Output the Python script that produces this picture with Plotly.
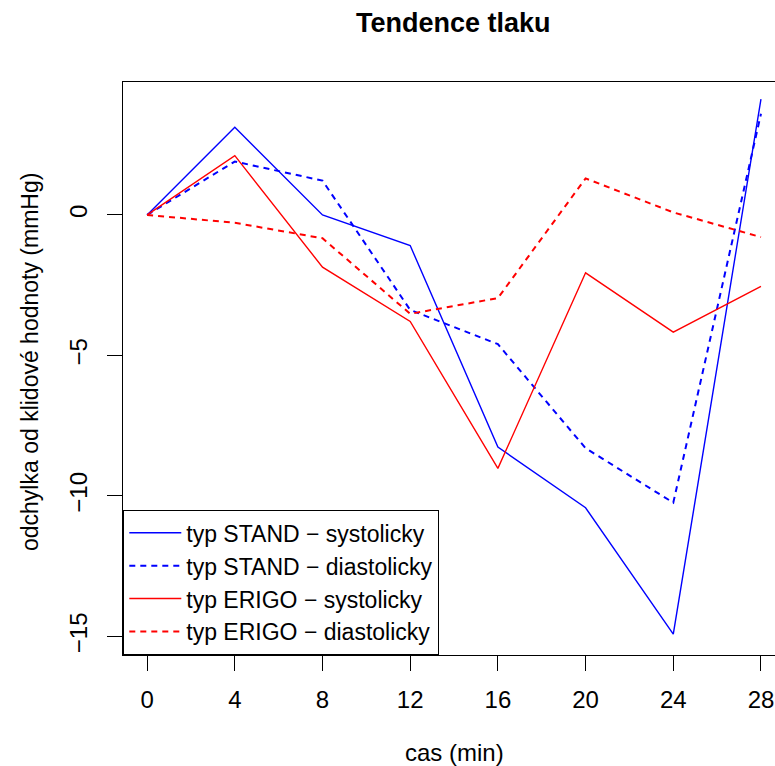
import plotly.graph_objects as go

cas = [0, 4, 8, 12, 16, 20, 24, 28]
stand_sys = [0, 3.12, 0.0, -1.09, -8.26, -10.42, -14.92, 4.12]
stand_dia = [0, 1.9, 1.22, -3.38, -4.6, -8.3, -10.24, 3.6]
erigo_sys = [0, 2.11, -1.86, -3.79, -9.02, -2.06, -4.17, -2.54]
erigo_dia = [0, -0.28, -0.83, -3.52, -2.96, 1.30, 0.09, -0.79]

names = ["typ STAND − systolicky", "typ STAND − diastolicky",
         "typ ERIGO − systolicky", "typ ERIGO − diastolicky"]
colors = ["#0000FF", "#0000FF", "#FF0000", "#FF0000"]
dashes = ["solid", "6px,5px", "solid", "6px,5px"]
widths = [1.4, 2.0, 1.4, 2.0]
series = [stand_sys, stand_dia, erigo_sys, erigo_dia]

x_ticks = [0, 4, 8, 12, 16, 20, 24, 28]
y_ticks = [-15, -10, -5, 0]
y_ticktext = ["−15", "−10", "−5", "0"]

FONT = "Liberation Sans, Arial, sans-serif"

fig = go.Figure()
for ys, nm, c, d, w in zip(series, names, colors, dashes, widths):
    fig.add_trace(go.Scatter(x=cas, y=ys, mode="lines", name=nm,
                             line=dict(color=c, dash=d, width=w)))

W, H = 775, 766
L, R, T, B = 123, 0, 82, 111
pw, ph = W - L - R, H - T - B

def px(xp):
    return (xp - L) / pw

def py(yp):
    return (H - B - yp) / ph

fig.update_layout(
    width=W, height=H,
    margin=dict(l=L, r=R, t=T, b=B, pad=0),
    paper_bgcolor="white", plot_bgcolor="white",
    font=dict(family=FONT, size=23, color="black"),
    showlegend=True,
    legend=dict(x=0, y=0, xanchor="left", yanchor="bottom",
                bordercolor="black", borderwidth=1.3, bgcolor="white",
                font=dict(size=23), tracegroupgap=0, itemwidth=52),
    xaxis=dict(range=[-1.1, 28.64], tickvals=x_ticks, ticks="outside",
               ticklen=15, tickwidth=1.3, tickcolor="black",
               showline=True, linecolor="black", linewidth=1.3, mirror=True,
               showgrid=False, zeroline=False, ticklabelstandoff=8,
               tickfont=dict(size=24)),
    yaxis=dict(range=[-15.66, 4.73], tickvals=y_ticks, ticktext=y_ticktext,
               ticks="outside", ticklen=15, tickwidth=1.3, tickcolor="black",
               showline=True, linecolor="black", linewidth=1.3, mirror=False,
               showgrid=False, zeroline=False, tickangle=-90,
               ticklabelstandoff=10, tickfont=dict(size=24)),
    annotations=[
        dict(text="<b>Tendence tlaku</b>", x=px(453), y=py(23), xref="paper", yref="paper",
             showarrow=False, xanchor="center", yanchor="middle", font=dict(size=27)),
        dict(text="cas (min)", x=px(455), y=py(752), xref="paper", yref="paper",
             showarrow=False, xanchor="center", yanchor="middle", font=dict(size=24)),
        dict(text="odchylka od klidové hodnoty (mmHg)", x=px(30), y=py(362),
             xref="paper", yref="paper", textangle=-90,
             showarrow=False, xanchor="center", yanchor="middle", font=dict(size=23)),
    ],
)

fig.write_html("out.html")
